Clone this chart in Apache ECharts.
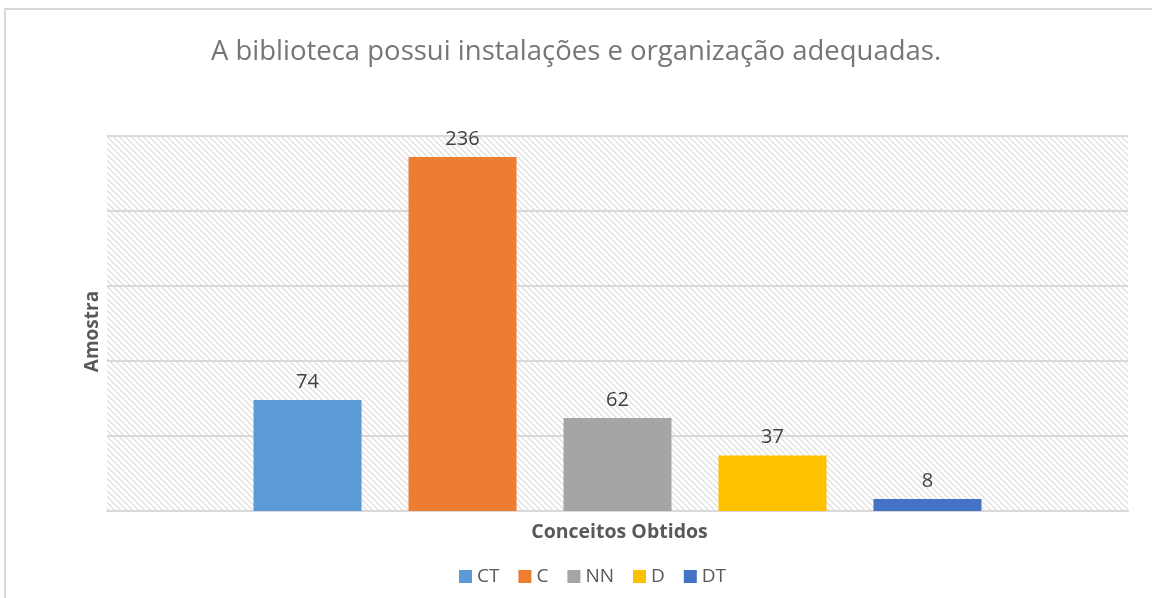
<!DOCTYPE html>
<html>
<head>
<meta charset="utf-8">
<style>
  html, body { margin: 0; padding: 0; background: #ffffff; }
  #chart { width: 1152px; height: 598px; }
</style>
<script src="https://cdn.jsdelivr.net/npm/echarts@6/dist/echarts.min.js"></script>
</head>
<body>
<div id="chart"></div>
<script>
// Survey answers for the library statement
const titleText = 'A biblioteca possui instalações e organização adequadas.';
const categories = [''];
const seriesNames = ['CT', 'C', 'NN', 'D', 'DT'];
const seriesValues = [74, 236, 62, 37, 8];
const seriesColors = ['#5B9BD5', '#ED7D31', '#A5A5A5', '#FFC000', '#4472C4'];
const xAxisTitle = 'Conceitos Obtidos';
const yAxisTitle = 'Amostra';

// Light downward-diagonal hatch for the plot background
function makeHatch() {
  const c = document.createElement('canvas');
  c.width = 6; c.height = 6;
  const ctx = c.getContext('2d');
  ctx.fillStyle = '#ffffff';
  ctx.fillRect(0, 0, 6, 6);
  ctx.fillStyle = '#e3e3e3';
  for (let i = 0; i < 6; i++) {
    ctx.fillRect(i, i, 1, 1);
    ctx.fillRect((i + 1) % 6, i, 1, 1);
  }
  return c;
}

const chart = echarts.init(document.getElementById('chart'), null, { renderer: 'canvas' });

const series = seriesNames.map((name, i) => ({
  name: name,
  type: 'bar',
  data: [seriesValues[i]],
  barWidth: 108,
  barGap: '43.5%',
  itemStyle: { color: seriesColors[i] },
  label: {
    show: true,
    position: 'top',
    distance: 8,
    color: '#404040',
    fontSize: 20,
    fontFamily: 'Open Sans'
  }
}));

chart.setOption({
  animation: false,
  backgroundColor: '#ffffff',
  title: {
    text: titleText,
    left: 'center',
    top: 33,
    textStyle: {
      color: '#767676',
      fontSize: 27.5,
      fontWeight: 'normal',
      fontFamily: 'Open Sans'
    }
  },
  graphic: [{
    type: 'rect',
    z: -10,
    shape: { x: 5, y: 9, width: 1300, height: 800 },
    style: { fill: 'none', stroke: '#d9d9d9', lineWidth: 2 },
    silent: true
  }],
  legend: {
    bottom: 7,
    left: 454,
    itemWidth: 13,
    itemHeight: 13,
    itemGap: 19,
    icon: 'rect',
    textStyle: { color: '#595959', fontSize: 19, fontFamily: 'Open Sans' },
    data: seriesNames
  },
  grid: {
    left: 107,
    right: 24,
    top: 136,
    bottom: 87,
    show: true,
    borderWidth: 0,
    backgroundColor: { image: makeHatch(), repeat: 'repeat' }
  },
  xAxis: {
    type: 'category',
    data: categories,
    name: xAxisTitle,
    nameLocation: 'middle',
    nameGap: 11,
    nameTextStyle: {
      color: '#595959', fontSize: 19.5, fontWeight: 'bold', fontFamily: 'Open Sans',
      verticalAlign: 'top', padding: [0, 0, 0, 4]
    },
    axisLine: { show: true, lineStyle: { color: '#d9d9d9', width: 2 } },
    axisTick: { show: false },
    axisLabel: { show: false }
  },
  yAxis: {
    type: 'value',
    min: 0,
    max: 250,
    interval: 50,
    name: yAxisTitle,
    nameLocation: 'middle',
    nameGap: 5,
    nameTextStyle: {
      color: '#595959', fontSize: 19, fontWeight: 'bold', fontFamily: 'Open Sans',
      padding: [0, 16, 0, 0]
    },
    axisLine: { show: false },
    axisTick: { show: false },
    axisLabel: { show: false },
    splitLine: { show: true, lineStyle: { color: '#d9d9d9', width: 2 } }
  },
  series: series
});
</script>
</body>
</html>
